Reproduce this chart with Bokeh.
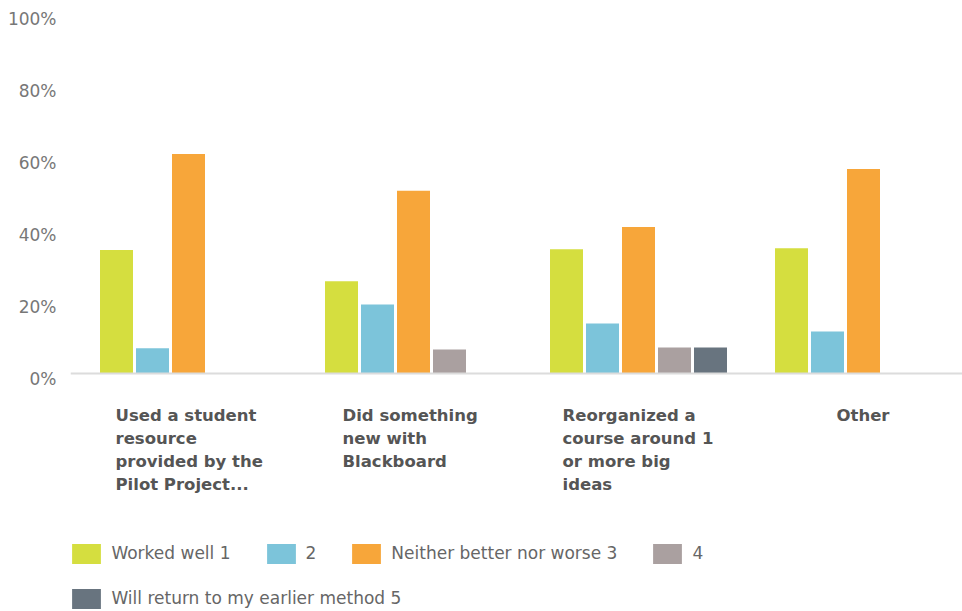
from bokeh.plotting import figure
from bokeh.models import (Range1d, FixedTicker, Legend, LegendItem, Label,
                          ColumnDataSource, LinearAxis, Span)
from bokeh.transform import dodge
from bokeh.embed import file_html
from bokeh.resources import INLINE

# ---------------- data ----------------
categories = [
    "Used a student resource provided by the Pilot Project...",
    "Did something new with Blackboard",
    "Reorganized a course around 1 or more big ideas",
    "Other",
]
category_lines = [
    ["Used a student", "resource", "provided by the", "Pilot Project..."],
    ["Did something", "new with", "Blackboard"],
    ["Reorganized a", "course around 1", "or more big", "ideas"],
    ["Other"],
]
series_names = ["Worked well 1", "2", "Neither better nor worse 3", "4",
                "Will return to my earlier method 5"]
worked_well_1 = [34.3, 25.6, 34.5, 34.8]
rating_2 = [7.0, 19.2, 13.9, 11.7]
neither_3 = [61.0, 50.8, 40.7, 56.8]
rating_4 = [0.0, 6.7, 7.2, 0.0]
return_5 = [0.0, 0.0, 7.2, 0.0]
y_ticks = [0, 20, 40, 60, 80, 100]
y_tick_labels = ["0%", "20%", "40%", "60%", "80%", "100%"]

colors = ["#d5de3f", "#7cc4da", "#f7a63a", "#aaa0a0", "#68747f"]

# ---------------- layout constants ----------------
W, H = 962, 611
FRAME_LEFT, FRAME_TOP = 70, 8
BASELINE_PX = 373
Y_MAX = 101.4
PX_Y = (BASELINE_PX - FRAME_TOP) / Y_MAX
Y_MIN = -(H - BASELINE_PX) / PX_Y
LABEL_SHIFT = 5.5 / PX_Y
GROUP_PITCH = 225.0
FIRST_CENTER = 188.0
BAR_PITCH = 36.0 / GROUP_PITCH
BAR_WIDTH = 33.0 / GROUP_PITCH

FONT = "DejaVu Sans"

x_start = -(FIRST_CENTER - FRAME_LEFT) / GROUP_PITCH
x_end = (W - FIRST_CENTER) / GROUP_PITCH

p = figure(width=W, height=H, output_backend="svg", toolbar_location=None,
           x_range=Range1d(x_start, x_end), y_range=Range1d(Y_MIN, Y_MAX),
           x_axis_location=None, y_axis_location=None,
           min_border_left=FRAME_LEFT, min_border_right=0,
           min_border_top=FRAME_TOP, min_border_bottom=0)
p.background_fill_color = "white"
p.border_fill_color = "white"
p.outline_line_color = None
p.xgrid.grid_line_color = None
p.ygrid.grid_line_color = None

source = ColumnDataSource(dict(
    x=list(range(len(categories))),
    s1=worked_well_1, s2=rating_2, s3=neither_3, s4=rating_4, s5=return_5,
))

# baseline (category axis line)
p.add_layout(Span(location=0, dimension="width", line_color="#dcdcdc",
                  line_width=2))

cols = ["s1", "s2", "s3", "s4", "s5"]
renderers = []
for k, col in enumerate(cols):
    r = p.vbar(x=dodge("x", (k - 2) * BAR_PITCH, range=p.x_range), top=col,
               width=BAR_WIDTH, bottom=0, source=source,
               fill_color=colors[k], line_color=None)
    renderers.append(r)

# value axis (labels sit slightly below their tick, as in the source chart)
p.extra_y_ranges = {"labels": Range1d(Y_MIN + LABEL_SHIFT, Y_MAX + LABEL_SHIFT)}
yaxis = LinearAxis(y_range_name="labels", ticker=FixedTicker(ticks=y_ticks))
yaxis.major_label_overrides = {t: l for t, l in zip(y_ticks, y_tick_labels)}
yaxis.axis_line_color = None
yaxis.major_tick_line_color = None
yaxis.minor_tick_line_color = None
yaxis.major_label_standoff = 8
yaxis.major_label_text_font = FONT
yaxis.major_label_text_font_size = "17px"
yaxis.major_label_text_color = "#777777"
p.add_layout(yaxis, "left")

# category labels (left-aligned multi-line blocks under each group)
label_left_px = [-73, -71, -76, -27]
first_baseline_px = 415
line_step_px = 23
for i, lines in enumerate(category_lines):
    for j, line in enumerate(lines):
        base = first_baseline_px + j * line_step_px
        p.add_layout(Label(
            x=i + label_left_px[i] / GROUP_PITCH,
            y=-(base - BASELINE_PX) / PX_Y,
            text=line, text_font=FONT, text_font_size="16.5px",
            text_font_style="bold", text_color="#555555",
            text_align="left", text_baseline="alphabetic"))

# legends
common = dict(orientation="horizontal", glyph_width=36, glyph_height=25,
              label_standoff=7, spacing=32, padding=0, margin=0,
              border_line_color=None, background_fill_alpha=0,
              label_text_font=FONT, label_text_font_size="17px",
              label_text_color="#666666", label_width=0)
leg1 = Legend(items=[LegendItem(label=series_names[k], renderers=[renderers[k]])
                     for k in range(4)],
              location=(68.4 - FRAME_LEFT, -(565.5 - H)), **common)
leg2 = Legend(items=[LegendItem(label=series_names[4], renderers=[renderers[4]])],
              location=(68.4 - FRAME_LEFT, -(610.5 - H)), **common)
p.add_layout(leg1, "center")
p.add_layout(leg2, "center")

open("out.html", "w").write(file_html(p, INLINE))
